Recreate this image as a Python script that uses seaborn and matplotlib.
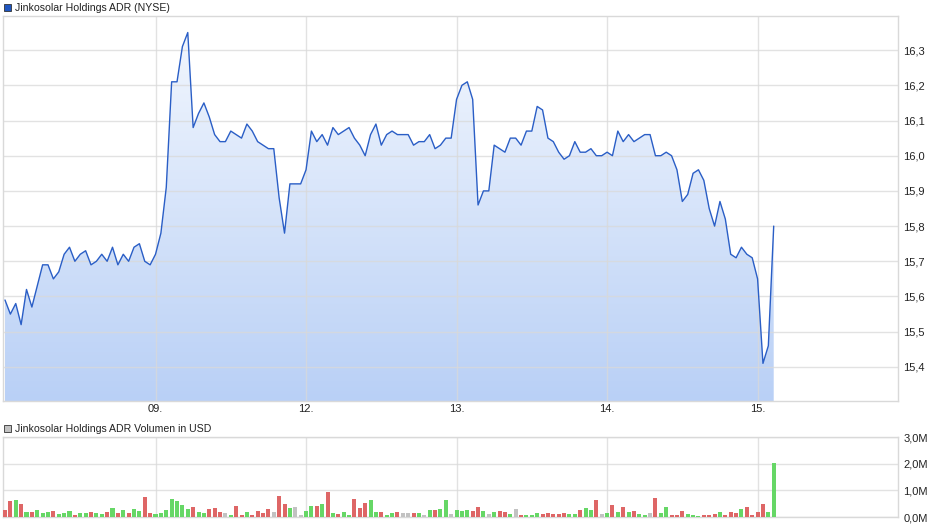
import matplotlib
matplotlib.use("Agg")
import matplotlib.pyplot as plt
import numpy as np
import pandas as pd
import seaborn as sns
from matplotlib.colors import LinearSegmentedColormap
from matplotlib.patches import Rectangle
from matplotlib.ticker import FuncFormatter

# intraday price (15 min steps)
price = [
    15.59, 15.55, 15.58, 15.52, 15.62, 15.57, 15.63, 15.69, 15.69, 15.65,
    15.67, 15.72, 15.74, 15.70, 15.72, 15.73, 15.69, 15.70, 15.72, 15.70,
    15.74, 15.69, 15.72, 15.70, 15.74, 15.75, 15.70, 15.69, 15.72, 15.78,
    15.91, 16.21, 16.21, 16.31, 16.35, 16.08, 16.12, 16.15, 16.11, 16.06,
    16.04, 16.04, 16.07, 16.06, 16.05, 16.09, 16.07, 16.04, 16.03, 16.02,
    16.02, 15.88, 15.78, 15.92, 15.92, 15.92, 15.96, 16.07, 16.04, 16.06,
    16.03, 16.08, 16.06, 16.07, 16.08, 16.05, 16.03, 16.00, 16.06, 16.09,
    16.03, 16.06, 16.07, 16.06, 16.06, 16.06, 16.03, 16.04, 16.04, 16.06,
    16.02, 16.03, 16.05, 16.05, 16.16, 16.20, 16.21, 16.16, 15.86, 15.90,
    15.90, 16.03, 16.02, 16.01, 16.05, 16.05, 16.03, 16.07, 16.07, 16.14,
    16.13, 16.05, 16.04, 16.01, 15.99, 16.00, 16.04, 16.01, 16.01, 16.02,
    16.00, 16.00, 16.01, 16.00, 16.07, 16.04, 16.06, 16.04, 16.05, 16.06,
    16.06, 16.00, 16.00, 16.01, 16.00, 15.96, 15.87, 15.89, 15.95, 15.96,
    15.93, 15.85, 15.80, 15.87, 15.82, 15.72, 15.71, 15.74, 15.72, 15.71,
    15.65, 15.41, 15.46, 15.80,
]

# volume in million USD
volume = [
    0.25, 0.59, 0.63, 0.48, 0.19, 0.19, 0.25, 0.15, 0.19, 0.21,
    0.11, 0.15, 0.21, 0.08, 0.15, 0.15, 0.19, 0.15, 0.11, 0.19,
    0.34, 0.15, 0.26, 0.15, 0.30, 0.23, 0.75, 0.15, 0.11, 0.15,
    0.26, 0.68, 0.60, 0.45, 0.30, 0.38, 0.19, 0.15, 0.30, 0.34,
    0.19, 0.15, 0.08, 0.42, 0.08, 0.19, 0.08, 0.23, 0.15, 0.29,
    0.19, 0.79, 0.49, 0.34, 0.38, 0.08, 0.22, 0.40, 0.40, 0.48,
    0.93, 0.14, 0.10, 0.18, 0.06, 0.67, 0.33, 0.52, 0.63, 0.18,
    0.18, 0.06, 0.14, 0.18, 0.14, 0.14, 0.14, 0.14, 0.06, 0.25,
    0.25, 0.29, 0.63, 0.10, 0.25, 0.21, 0.25, 0.21, 0.36, 0.21,
    0.10, 0.18, 0.21, 0.18, 0.10, 0.29, 0.06, 0.06, 0.06, 0.14,
    0.10, 0.14, 0.10, 0.10, 0.14, 0.10, 0.10, 0.25, 0.33, 0.25,
    0.63, 0.10, 0.14, 0.44, 0.18, 0.36, 0.18, 0.21, 0.10, 0.06,
    0.14, 0.70, 0.14, 0.36, 0.06, 0.06, 0.21, 0.10, 0.06, 0.03,
    0.06, 0.06, 0.10, 0.18, 0.06, 0.18, 0.14, 0.29, 0.36, 0.06,
    0.18, 0.48, 0.18, 2.01,
]

# bar direction: u = up, d = down, n = unchanged
direction = list(
    "ddududuuud" "uuuduuduud" "ududuudduu" "uuuuuduudd" "dnuddudddd"
    "nddunnuudu" "duduuddduu" "duudnndunu" "duunuuuddu" "nuddunduuu"
    "ddddduuduu" "dnudududuu" "nduuddduuu" "dddudddudd" "dduu"
)

day_ticks = [28, 56, 84, 112, 140]
day_labels = ["09.", "12.", "13.", "14.", "15."]

idx = np.arange(len(price))
df = pd.DataFrame({"idx": idx, "price": price, "volume": volume, "dir": direction})

sns.set_style("white")
plt.rcParams["font.family"] = ["Liberation Sans", "DejaVu Sans"]

grid_c = "#d9d9d9"
fig = plt.figure(figsize=(9.4, 5.26), dpi=100)
ax = fig.add_axes([0.0032, 0.2376, 0.952, 0.7320])
axv = fig.add_axes([0.0032, 0.0171, 0.952, 0.1521])

xmin, xmax = -0.37, 166.1
ymin, ymax = 15.303, 16.397

# gradient area under the price line
cmap = LinearSegmentedColormap.from_list("fill", ["#b9d0f6", "#f4f8fe"])
grad = np.linspace(0, 1, 256).reshape(-1, 1)
im = ax.imshow(grad, extent=[xmin, xmax, ymin, ymax], origin="lower",
               aspect="auto", cmap=cmap, zorder=1)
poly = ax.fill_between(idx, price, ymin, color="none", lw=0)
im.set_clip_path(poly.get_paths()[0], transform=ax.transData)

sns.lineplot(data=df, x="idx", y="price", ax=ax, color="#2a5ec6", linewidth=1.0, zorder=3)

ax.set_xlim(xmin, xmax)
ax.set_ylim(ymin, ymax)
ax.set_yticks(np.round(np.arange(15.4, 16.31, 0.1), 1))
ax.yaxis.tick_right()
ax.yaxis.set_major_formatter(FuncFormatter(lambda v, p: f"{v:.1f}".replace(".", ",")))
ax.set_xticks(day_ticks)
ax.set_xticklabels(day_labels)
ax.set_xlabel("")
ax.set_ylabel("")

palette = {"u": "#66d766", "d": "#de6666", "n": "#c2c2c2"}
sns.barplot(data=df, x="idx", y="volume", native_scale=True, width=0.75,
            errorbar=None, color="#c2c2c2", ax=axv, zorder=3)
# colour each bar by direction and fix width
for p, d in zip(axv.patches, direction):
    c = p.get_x() + p.get_width() / 2
    p.set_width(0.75)
    p.set_x(c - 0.375)
    p.set_facecolor(palette[d])
    p.set_edgecolor("none")

axv.set_xlim(xmin, xmax)
axv.set_ylim(0, 3.0)
axv.set_yticks([0, 1, 2, 3])
axv.yaxis.tick_right()
axv.yaxis.set_major_formatter(FuncFormatter(lambda v, p: f"{v:.1f}M".replace(".", ",")))
axv.set_xticks(day_ticks)
axv.set_xticklabels([])
axv.set_xlabel("")
axv.set_ylabel("")

for a in (ax, axv):
    a.grid(True, color=grid_c, lw=1, alpha=0.75, zorder=2)
    a.set_axisbelow(False)
    a.tick_params(length=0, labelsize=8, colors="#222222")
    a.tick_params(axis="y", pad=4)
    a.tick_params(axis="x", pad=2)
    for s in a.spines.values():
        s.set_color(grid_c)
        s.set_linewidth(1)
        s.set_visible(True)

# header labels
fig.add_artist(Rectangle((4 / 940, 1 - 11 / 526), 7 / 940, 7 / 526,
                         transform=fig.transFigure, facecolor="#1f56c0",
                         edgecolor="#333333", lw=0.6))
fig.text(15 / 940, 1 - 8 / 526, "Jinkosolar Holdings ADR (NYSE)",
         fontsize=7.6, va="center", ha="left", color="#222222")
fig.add_artist(Rectangle((4 / 940, 1 - 432 / 526), 7 / 940, 7 / 526,
                         transform=fig.transFigure, facecolor="#c2c2c2",
                         edgecolor="#333333", lw=0.6))
fig.text(15 / 940, 1 - 428.5 / 526, "Jinkosolar Holdings ADR Volumen in USD",
         fontsize=7.6, va="center", ha="left", color="#222222")

fig.savefig("out.png", dpi=100)
